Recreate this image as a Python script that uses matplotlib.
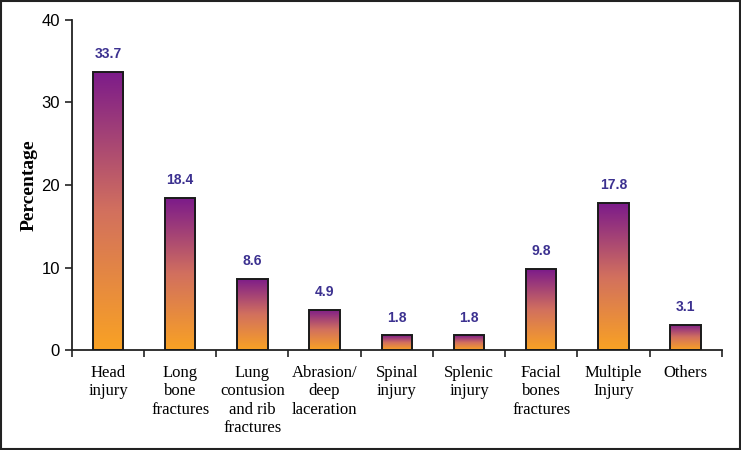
import numpy as np
import matplotlib.pyplot as plt
from matplotlib.colors import LinearSegmentedColormap
from matplotlib.patches import Rectangle

# Data
categories = ['Head\ninjury', 'Long\nbone\nfractures', 'Lung\ncontusion\nand rib\nfractures',
              'Abrasion/\ndeep\nlaceration', 'Spinal\ninjury', 'Splenic\ninjury',
              'Facial\nbones\nfractures', 'Multiple\nInjury', 'Others']
values = [33.7, 18.4, 8.6, 4.9, 1.8, 1.8, 9.8, 17.8, 3.1]

# Gradient from orange (bottom) to purple (top)
cmap = LinearSegmentedColormap.from_list('grad', ['#F9A224', '#D2705E', '#7C1B8A'])
grad = np.linspace(0, 1, 256).reshape(-1, 1)

fig = plt.figure(figsize=(7.41, 4.5), dpi=100)
ax = fig.add_axes([0.097, 0.222, 0.877, 0.734])

x = np.arange(len(values))
width = 0.42
for xi, v in zip(x, values):
    rect = Rectangle((xi - width / 2, 0), width, v, facecolor='none',
                     edgecolor='#1a1a1a', linewidth=1.4, zorder=3)
    ax.add_patch(rect)
    im = ax.imshow(grad, cmap=cmap, aspect='auto', origin='lower',
                   extent=(xi - width / 2, xi + width / 2, 0, v), zorder=2)
    im.set_clip_path(rect)
    ax.text(xi, v + 1.3, f'{v:.1f}', ha='center', va='bottom', fontsize=10,
            fontweight='bold', color='#3C3190', family='Liberation Sans')

ax.set_xlim(-0.5, len(values) - 0.5)
ax.set_ylim(0, 40)
ax.set_yticks([0, 10, 20, 30, 40])
ax.set_yticklabels(['0', '10', '20', '30', '40'], family='Liberation Sans', fontsize=12)
ax.set_xticks(np.arange(len(values) + 1) - 0.5)
ax.set_xticklabels([])
for xi, lab in zip(x, categories):
    ax.text(xi, -1.8, lab, ha='center', va='top', fontsize=12,
            family='Liberation Serif', linespacing=1.2)
ax.tick_params(axis='both', direction='out', length=5, width=1.2, color='#222222')
ax.set_ylabel('Percentage', family='Liberation Serif', fontweight='bold', fontsize=14,
              labelpad=3)

for s in ['top', 'right']:
    ax.spines[s].set_visible(False)
for s in ['left', 'bottom']:
    ax.spines[s].set_linewidth(1.3)
    ax.spines[s].set_color('#222222')

# Outer border around the figure
fig.add_artist(Rectangle((0.001, 0.002), 0.997, 0.996, transform=fig.transFigure,
                         fill=False, edgecolor='#222222', linewidth=1.5))

fig.savefig('out.png', dpi=100)
